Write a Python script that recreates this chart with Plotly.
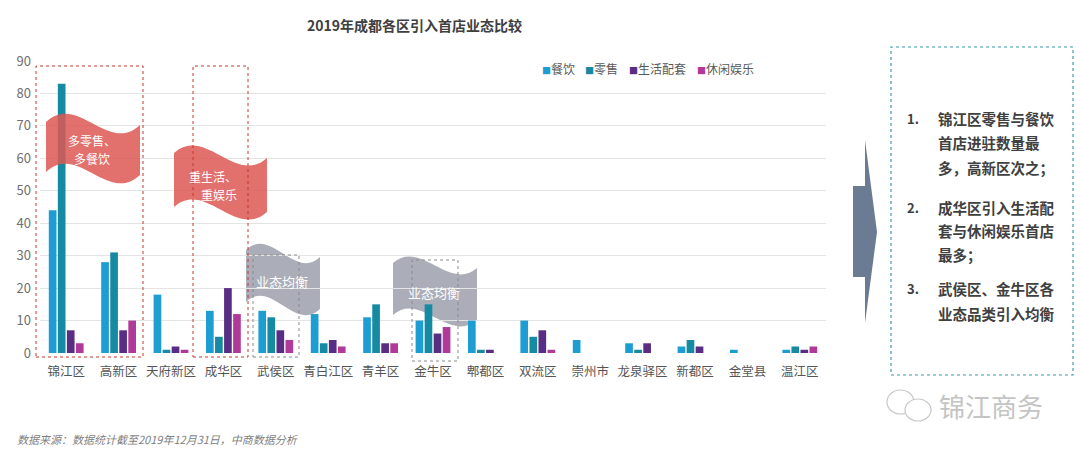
import plotly.graph_objects as go

# ---------------- data ----------------
districts = ["锦江区", "高新区", "天府新区", "成华区", "武侯区", "青白江区", "青羊区", "金牛区",
             "郫都区", "双流区", "崇州市", "龙泉驿区", "新都区", "金堂县", "温江区"]
catering = [44, 28, 18, 13, 13, 12, 11, 10, 10, 10, 4, 3, 2, 1, 1]
retail = [83, 31, 1, 5, 11, 3, 15, 15, 1, 5, 0, 1, 4, 0, 2]
living = [7, 7, 2, 20, 7, 4, 3, 6, 1, 7, 0, 3, 2, 0, 1]
leisure = [3, 10, 1, 12, 4, 2, 3, 8, 0, 1, 0, 0, 0, 0, 2]

series_names = ["餐饮", "零售", "生活配套", "休闲娱乐"]
series_values = [catering, retail, living, leisure]
series_colors = ["#1e9dd2", "#168aa2", "#5a2d84", "#b03a98"]

title_text = "2019年成都各区引入首店业态比较"
source_text = "数据来源：数据统计截至2019年12月31日，中商数据分析"
insight_lines = [
    ("1.", ["锦江区零售与餐饮", "首店进驻数量最", "多，高新区次之；"]),
    ("2.", ["成华区引入生活配", "套与休闲娱乐首店", "最多；"]),
    ("3.", ["武侯区、金牛区各", "业态品类引入均衡"]),
]

FONT = "Noto Sans CJK SC"
W, H = 1080, 452
L, R, T, B = 40, 826, 61, 353

def px(x):
    return (x - L) / (R - L)

def py(y):
    return (B - y) / (B - T)

fig = go.Figure()
for name, vals, col in zip(series_names, series_values, series_colors):
    fig.add_trace(go.Bar(x=districts, y=vals, name=name, marker_color=col,
                         marker_line_width=0, showlegend=False, hoverinfo="skip"))

# ---------------- decorations ----------------
def flag_path(x0, x1, ytl, ytr, h, k):
    w = x1 - x0
    pts_top = [(x0, ytl), (x0 + w / 3, ytl - k), (x0 + 2 * w / 3, ytr + k), (x1, ytr)]
    pts_bot = [(x1, ytr + h), (x0 + 2 * w / 3, ytr + h + k), (x0 + w / 3, ytl + h - k), (x0, ytl + h)]
    f = lambda p: f"{px(p[0]):.5f},{py(p[1]):.5f}"
    return (f"M {f(pts_top[0])} C {f(pts_top[1])} {f(pts_top[2])} {f(pts_top[3])} "
            f"L {f(pts_bot[0])} C {f(pts_bot[1])} {f(pts_bot[2])} {f(pts_bot[3])} Z")

shapes = []
# gray flags (between grid and bars)
for (x0, x1, ytl, ytr, h, k) in [(246, 320, 250, 257, 52, 24), (393, 477, 263, 268, 52, 24)]:
    shapes.append(dict(type="path", xref="paper", yref="paper", path=flag_path(x0, x1, ytl, ytr, h, k),
                       fillcolor="#a4a7b2", opacity=0.92, line_width=0, layer="between"))
# red flags (above bars, semi transparent)
for (x0, x1, ytl, ytr, h, k) in [(46, 140, 122, 125, 50, 30), (174, 267, 153, 158, 54, 28)]:
    shapes.append(dict(type="path", xref="paper", yref="paper", path=flag_path(x0, x1, ytl, ytr, h, k),
                       fillcolor="#dd5752", opacity=0.85, line_width=0, layer="above"))
# dashed rectangles
for (x0, x1, y0, y1, col) in [(36, 143, 66, 357, "#c0392b"), (193, 248, 66, 357, "#c0392b"),
                              (253, 299, 255, 357, "#8a8a8a"), (412, 458, 260, 361, "#8a8a8a")]:
    shapes.append(dict(type="rect", xref="paper", yref="paper", x0=px(x0), x1=px(x1), y0=py(y1), y1=py(y0),
                       line=dict(color=col, width=1, dash="dot"), fillcolor="rgba(0,0,0,0)", layer="above"))
# arrow
arrow_path = (f"M {px(853):.5f},{py(186):.5f} L {px(865):.5f},{py(186):.5f} L {px(865):.5f},{py(140):.5f} "
              f"L {px(877):.5f},{py(232):.5f} L {px(865):.5f},{py(323):.5f} L {px(865):.5f},{py(277):.5f} "
              f"L {px(853):.5f},{py(277):.5f} Z")
shapes.append(dict(type="path", xref="paper", yref="paper", path=arrow_path, fillcolor="#6b7b93", line_width=0))
# insight box
shapes.append(dict(type="rect", xref="paper", yref="paper", x0=px(891), x1=px(1073), y0=py(375), y1=py(47),
                   line=dict(color="#3b9cb0", width=1.2, dash="dot"), fillcolor="rgba(0,0,0,0)"))
# watermark icon bubbles
shapes.append(dict(type="circle", xref="paper", yref="paper", x0=px(887), x1=px(914), y0=py(414), y1=py(390),
                   line=dict(color="#c8c8c8", width=1.2), fillcolor="rgba(255,255,255,0)"))
shapes.append(dict(type="circle", xref="paper", yref="paper", x0=px(905), x1=px(931), y0=py(421), y1=py(399),
                   line=dict(color="#c8c8c8", width=1.2), fillcolor="white"))

annotations = []
def add_text(x, y, text, size, color, xanchor="center", bold=False, italic=False):
    t = f"<b>{text}</b>" if bold else text
    if italic:
        t = f"<i>{t}</i>"
    annotations.append(dict(xref="paper", yref="paper", x=px(x), y=py(y), text=t, showarrow=False,
                            xanchor=xanchor, yanchor="middle", font=dict(family=FONT, size=size, color=color)))

# title
add_text(414, 25, title_text, 14, "#404040", bold=True)
# legend (manual)
for name, col, xs in zip(series_names, series_colors, [540, 583, 627, 695]):
    annotations.append(dict(xref="paper", yref="paper", x=px(xs), y=py(68), xanchor="left", yanchor="middle",
                            showarrow=False, font=dict(family=FONT, size=12, color="#595959"),
                            text=f"<span style='color:{col};font-size:9px'>■</span>{name}"))
# flag texts
add_text(92, 140, "多零售、", 12, "white")
add_text(92, 158, "多餐饮", 12, "white")
add_text(213, 176, "重生活、", 12, "white")
add_text(219, 194, "重娱乐", 12, "white")
add_text(282, 281, "业态均衡", 13, "white")
add_text(434, 292, "业态均衡", 13, "white")
# insights
ys = [[118, 142, 167], [207, 230, 254], [288, 313]]
for (num, lines), yl in zip(insight_lines, ys):
    add_text(905, yl[0], num, 13, "#404040", xanchor="left", bold=True)
    for line, yy in zip(lines, yl):
        add_text(936, yy, line, 14.5, "#404040", xanchor="left", bold=True)
# watermark
add_text(937, 405, "锦江商务", 26, "#c4c4c4", xanchor="left")
# source
add_text(15, 439, source_text, 11, "#7f7f7f", xanchor="left", italic=True)

fig.update_layout(
    width=W, height=H,
    margin=dict(l=L, r=W - R, t=T, b=H - B),
    paper_bgcolor="white", plot_bgcolor="white",
    barmode="group", bargap=0.31, bargroupgap=0.15,
    font=dict(family=FONT, color="#595959"),
    shapes=shapes, annotations=annotations,
    showlegend=False,
)
fig.update_yaxes(range=[0, 90], dtick=10, showgrid=True, gridcolor="#e4e4e4", gridwidth=1,
                 zeroline=False, showline=False, ticks="", ticklabelstandoff=8,
                 tickfont=dict(size=13, color="#707070"))
fig.update_xaxes(showgrid=False, showline=False, ticks="", ticklabelstandoff=9,
                 tickfont=dict(size=12.5, color="#555555"))

fig.write_html("out.html", config={"displayModeBar": False},
               post_script="document.body.style.margin='0';document.body.style.overflow='hidden';")
